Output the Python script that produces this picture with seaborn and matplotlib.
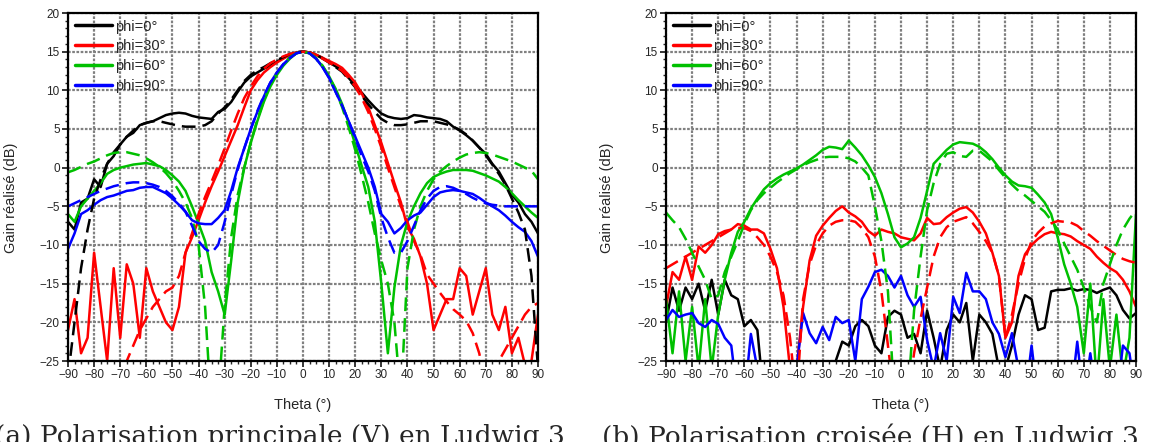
import numpy as np
import pandas as pd
import matplotlib
matplotlib.use("Agg")
import matplotlib.pyplot as plt
import seaborn as sns
from matplotlib.ticker import MultipleLocator

# angles every 2.5 degrees, -90 .. 90
theta = np.arange(-90, 92.5, 2.5)

# ---- (a) co-polarisation, measured (solid) and simulated (dashed) ----
a_k_meas = [-7, -8, -4.5, -4, -1.5, -2.5, 0.5, 1.5,
            3, 4, 4.5, 5.5, 5.8, 6, 6.4, 6.8,
            7, 7.1, 7, 6.7, 6.5, 6.4, 6.3, 7.2,
            7.6, 8.5, 9.8, 11, 11.8, 12.3, 12.8, 13.2,
            13.7, 14.2, 14.6, 14.9, 15, 14.9, 14.6, 14.2,
            13.6, 13.1, 12.6, 11.6, 10.6, 9.7, 8.7, 7.8,
            7, 6.6, 6.4, 6.3, 6.4, 6.8, 6.7, 6.5,
            6.4, 6.3, 6, 5.3, 4.8, 4.2, 3.5, 2.6,
            1.8, 0.5, -0.5, -2, -3.5, -4.5, -6, -7,
            -8.5]
a_k_sim = [-27, -20, -13, -8, -4, -1.5, 0.5, 2,
           3, 4, 4.8, 5.5, 5.8, 6, 6, 5.8,
           5.6, 5.4, 5.3, 5.3, 5.3, 5.5, 6, 7,
           7.8, 8.8, 10, 11.2, 12, 12.6, 13, 13.5,
           13.9, 14.3, 14.7, 14.95, 15, 14.9, 14.6, 14.1,
           13.6, 13, 12.4, 11.4, 10.4, 9.3, 8.2, 7.2,
           6.3, 5.8, 5.5, 5.5, 5.6, 5.8, 6, 6,
           6, 5.8, 5.6, 5.3, 4.9, 4.3, 3.5, 2.6,
           1.6, 0.4, -0.8, -2.2, -4, -5.8, -8, -14,
           -26]
a_r_meas = [-21, -17, -24, -22, -11, -18, -25, -13,
            -22, -12.5, -15, -22, -13, -16, -18, -20,
            -21, -18, -11, -9, -6.8, -4.5, -2.4, -0.5,
            1.5, 3.5, 5.5, 7.8, 10, 11.3, 12.3, 13,
            13.6, 14.1, 14.6, 14.9, 15, 14.9, 14.6, 14.2,
            13.8, 13.4, 12.9, 12, 11, 9.6, 7.8, 5.5,
            3.2, 0.6, -2, -4.5, -7.7, -9.2, -11.5, -15,
            -21, -19, -17, -17, -13, -14, -19, -16,
            -13, -19, -21, -18, -24, -22, -25.5, -25,
            -19]
a_r_sim = [-35, -35, -35, -35, -35, -35, -35, -35,
           -35, -25, -23, -21, -19.5, -18, -17, -16,
           -15.5, -14, -11, -8.5, -6, -3.8, -1.8, 0.3,
           2.5, 4.8, 7, 9, 10.5, 11.8, 12.8, 13.5,
           14, 14.4, 14.7, 14.9, 15, 14.9, 14.6, 14.1,
           13.6, 13.1, 12.5, 11.6, 10.5, 9, 7.2, 5,
           2.6, 0, -2.5, -5, -7, -9.5, -11.3, -13.8,
           -15, -16.2, -17.3, -18.3, -19, -19.8, -21.4, -24,
           -28, -30, -25, -23.5, -22, -20.5, -19, -18,
           -17.5]
a_g_meas = [-6, -7, -5, -4, -3, -2, -0.8, -0.3,
            0, 0.2, 0.4, 0.5, 0.6, 0.4, 0.2, -0.3,
            -1, -1.8, -3, -5, -7.2, -9.5, -13.5, -16,
            -19, -12, -4.5, 0, 3.2, 6, 8.5, 10.5,
            12, 13.2, 14.1, 14.8, 15, 14.8, 14.1, 13.1,
            11.8, 10.2, 8.2, 5.8, 3, 0.2, -2.5, -7,
            -15, -24, -15.5, -10, -7, -5, -3.3, -2,
            -1.2, -0.8, -0.5, -0.3, -0.3, -0.3, -0.4, -0.7,
            -1, -1.4, -1.8, -2.5, -3.3, -4.2, -5, -5.8,
            -6.5]
a_g_sim = [-0.6, -0.3, 0.1, 0.5, 0.8, 1.2, 1.6, 1.9,
           2, 2, 1.8, 1.6, 1.2, 0.7, 0.1, -0.7,
           -1.7, -3, -4.5, -6.5, -10, -18, -32, -30,
           -18, -9, -3.5, 0, 3.3, 6.2, 8.7, 10.7,
           12.2, 13.4, 14.3, 14.8, 15, 14.8, 14.2, 13.2,
           11.8, 10, 7.8, 5.2, 2.3, -1, -4.5, -8.5,
           -12, -15, -20, -30, -13, -8, -5, -3,
           -1.5, -0.5, 0.2, 0.8, 1.3, 1.7, 1.9, 2,
           1.9, 1.7, 1.4, 1.1, 0.8, 0.4, 0, -0.4,
           -1.5]
a_b_meas = [-10.5, -8.5, -6, -5.5, -4.8, -4.2, -3.8, -3.6,
            -3.3, -3, -2.9, -2.6, -2.5, -2.5, -2.9, -3.3,
            -4, -4.8, -5.7, -6.8, -7.2, -7.3, -7.3, -6.5,
            -5.5, -3, 0, 2.5, 5, 7.2, 9.2, 11,
            12.3, 13.4, 14.2, 14.8, 15, 14.8, 14.1, 13,
            11.6, 9.8, 8, 6, 4, 2, 0, -2.5,
            -6, -7, -8.5, -7.8, -6.8, -6.2, -5.8, -4.8,
            -3.8, -3.2, -3, -2.9, -3, -3.2, -3.4, -3.9,
            -4.5, -5, -5.5, -6.2, -7, -7.7, -8.3, -9.5,
            -11.5]
a_b_sim = [-5, -4.6, -4.2, -3.8, -3.4, -3, -2.7, -2.4,
           -2.2, -2, -1.9, -1.9, -2, -2.2, -2.5, -3,
           -3.7, -4.6, -5.7, -7.5, -9.5, -10.5, -11, -10,
           -7, -3.5, -0.2, 2.5, 5, 7.3, 9.3, 11,
           12.3, 13.4, 14.2, 14.8, 15, 14.8, 14.1, 13,
           11.6, 9.8, 8, 6, 3.8, 1.5, -0.5, -3,
           -6.5, -9, -11, -11, -9.5, -7.5, -5.5, -4,
           -3, -2.5, -2.4, -2.6, -3, -3.4, -3.9, -4.3,
           -4.6, -4.8, -4.9, -5, -5, -5, -5, -5,
           -5]

# ---- (b) cross-polarisation ----
b_k_meas = [-20, -15.5, -18.5, -15.5, -17, -15, -18.5, -14.5,
            -19, -14.5, -16.5, -17, -20.5, -19.7, -21, -30,
            -30, -30, -30, -30, -30, -30, -30, -30,
            -30, -30, -25, -22.5, -23, -20.5, -19.7, -20.5,
            -23, -24, -19.3, -18.5, -19, -22, -21.5, -24,
            -18.5, -22, -26, -21, -19, -20, -17.5, -25,
            -19, -20, -21.5, -26, -26, -23, -19, -16.5,
            -17, -21, -20.7, -16, -15.8, -15.8, -15.6, -15.9,
            -15.7, -15.8, -16.2, -15.8, -15.5, -16.5, -18.4, -19.5,
            -18.8]
b_r_meas = [-18, -13.5, -14.5, -11.5, -14.5, -10.2, -11, -10,
            -8.6, -8.2, -8, -7.3, -7.5, -8, -8, -8.5,
            -10.5, -13, -18, -26, -26, -18, -12, -8.8,
            -7.5, -6.5, -5.6, -5, -5.8, -6.3, -7, -8.2,
            -8.8, -8, -8.3, -8.5, -9, -9.2, -9.4, -8.5,
            -6.5, -7.3, -7.2, -6.4, -5.8, -5.3, -5.1, -5.8,
            -7, -8.5, -11, -14, -22, -20, -14, -11.2,
            -10, -9.2, -8.6, -8.3, -8.5, -8.6, -8.9, -9.5,
            -10, -10.5, -11.5, -12.3, -13, -13.5, -14.5, -16,
            -18]
b_r_sim = [-13, -12.5, -12, -11.5, -11, -10.5, -10, -9.5,
           -9, -8.5, -8, -7.8, -7.8, -8.2, -9, -10,
           -11.5, -13.5, -16.5, -22, -30, -17, -12.5, -10,
           -8.5, -7.5, -7, -6.8, -6.8, -7, -7.8, -9,
           -11.5, -16, -23, -30, -35, -30, -24, -19.5,
           -15.5, -11.5, -9, -7.7, -7, -6.7, -6.4, -7.2,
           -8.3, -9.5, -11, -14, -22, -19, -15, -11.8,
           -9.5, -8.4, -7.6, -7.2, -6.9, -7, -7.1, -7.5,
           -8.2, -8.8, -9.5, -10.1, -10.7, -11.3, -11.8, -12.1,
           -12.3]
b_g_meas = [-17, -24, -16, -25, -18, -26, -17, -26,
            -19, -14.5, -11, -8.3, -7, -5.3, -4, -2.8,
            -2, -1.4, -0.9, -0.5, -0.1, 0.4, 1, 1.6,
            2.3, 2.7, 2.6, 2.4, 3.5, 2.6, 1.6, 0.3,
            -1.2, -3.3, -6, -9, -10.3, -9.8, -9, -6.5,
            -3, 0.5, 1.4, 2.3, 3, 3.3, 3.2, 3.1,
            2.7, 2, 1.1, 0, -1, -1.8, -2.3, -2.4,
            -2.6, -3.5, -4.5, -6, -9, -12.5, -15, -18,
            -24, -15, -28, -17, -26, -19, -27, -22,
            -6]
b_g_sim = [-5.8, -6.8, -7.7, -9.2, -11, -12.8, -14.5, -17,
           -16.5, -13.5, -11.5, -9.5, -7.3, -5.5, -4.2, -3.3,
           -2.6, -1.9, -1.3, -0.7, -0.2, 0.3, 0.7, 1,
           1.3, 1.4, 1.4, 1.4, 1.2, 0.8, 0, -1,
           -5, -9.5, -16, -30, -35, -30, -18.5, -11.5,
           -5.5, -2, 0.5, 1.8, 2, 1.5, 1.4, 2.2,
           2.2, 1.5, 0.8, -0.3, -1.3, -2.2, -3, -3.6,
           -4.3, -5, -5.7, -6.8, -8, -9.8, -11.5, -13.2,
           -15.5, -18, -20, -15, -12.5, -10, -8, -6.6,
           -5.5]
b_b_meas = [-19.7, -18.4, -19.3, -19, -18.8, -20.1, -20.6, -19.7,
            -20.2, -22, -23, -30, -30, -21.5, -26, -30,
            -30, -30, -30, -30, -26, -18.8, -21.4, -22.7,
            -20.6, -22.3, -19.3, -20.1, -19.7, -25, -17, -15.4,
            -13.5, -13.2, -14, -15.5, -14, -16.5, -18, -16.7,
            -22.3, -26, -21.4, -25, -16.7, -18.8, -13.6, -16,
            -16, -17, -20, -21.5, -24.5, -21.4, -26, -30,
            -23, -30, -30, -30, -30, -30, -30, -22.5,
            -30, -24, -30, -30, -30, -30, -23, -24,
            -30]

labels = ["phi=0°", "phi=30°", "phi=60°", "phi=90°"]
colors = ["#000000", "#ff0000", "#00c000", "#0000ff"]

sns.set_style("ticks")
plt.rcParams['font.family'] = ['Liberation Sans', 'DejaVu Sans']

fig = plt.figure(figsize=(11.53, 4.42), dpi=100)
ax_a = fig.add_axes([68/1153, 81/442, 470/1153, 348/442])
ax_b = fig.add_axes([666/1153, 81/442, 470/1153, 348/442])

panels = [
    (ax_a, [a_k_meas, a_r_meas, a_g_meas, a_b_meas],
     [a_k_sim, a_r_sim, a_g_sim, a_b_sim]),
    (ax_b, [b_k_meas, b_r_meas, b_g_meas, b_b_meas],
     [None, b_r_sim, b_g_sim, None]),
]

for ax, meas, sims in panels:
    for y, lab, col in zip(meas, labels, colors):
        sns.lineplot(x=theta, y=y, color=col, lw=1.8, label=lab, ax=ax)
    for y, col in zip(sims, colors):
        if y is None:
            continue
        sns.lineplot(x=theta, y=y, color=col, lw=1.8, linestyle=(0, (5.5, 2.8)),
                     legend=False, ax=ax)
    ax.set_xlim(-90, 90)
    ax.set_ylim(-25, 20)
    ax.xaxis.set_major_locator(MultipleLocator(10))
    ax.xaxis.set_minor_locator(MultipleLocator(2.5))
    ax.yaxis.set_major_locator(MultipleLocator(5))
    ax.yaxis.set_minor_locator(MultipleLocator(1))
    ax.grid(True, which='major', color='#808080', linestyle=(0, (1.2, 0.7)), linewidth=1.6)
    ax.set_axisbelow(True)
    ax.tick_params(which='major', direction='out', length=4, width=1.3,
                   labelsize=8.5, pad=2)
    ax.tick_params(which='minor', direction='out', length=2.5, width=1)
    for s in ax.spines.values():
        s.set_linewidth(1.6)
        s.set_color('black')
    ax.set_xlabel("Theta (°)", fontsize=10.5)
    ax.set_ylabel("Gain réalisé (dB)", fontsize=10.5)
    ax.xaxis.set_label_coords(0.5, -0.106)
    leg = ax.legend(loc='upper left', frameon=False, fontsize=10.5, handlelength=2.6,
                    handletextpad=0.2, labelspacing=0.4, borderaxespad=0.25, borderpad=0.2)
    for ln in leg.get_lines():
        ln.set_linewidth(2.5)

ax_a.yaxis.set_label_coords(-0.107, 0.47)
ax_b.yaxis.set_label_coords(-0.111, 0.47)

fig.text(0.243, 1 - 424/442, "(a) Polarisation principale (V) en Ludwig 3",
         ha='center', va='top', family='DejaVu Serif', fontsize=19)
fig.text(0.7545, 1 - 424/442, "(b) Polarisation croisée (H) en Ludwig 3",
         ha='center', va='top', family='DejaVu Serif', fontsize=19)

fig.savefig("out.png", dpi=100)
